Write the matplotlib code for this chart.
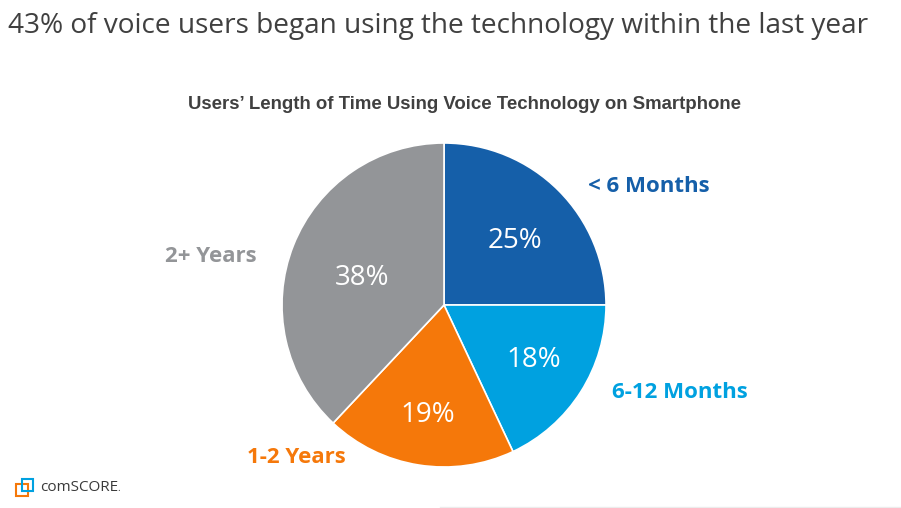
import numpy as np
import matplotlib.pyplot as plt
from matplotlib.patches import Rectangle

categories = ['< 6 Months', '6-12 Months', '1-2 Years', '2+ Years']
shares = [25, 18, 19, 38]
colors = ['#155fa9', '#00a1e0', '#f5780a', '#939598']

# where each label sits (data units of the pie axes, radius = 1)
pct_pos = [(0.44, 0.395), (0.556, -0.342), (-0.10, -0.682), (-0.506, 0.165)]
name_pos = [(1.265, 0.73), (1.457, -0.542), (-0.914, -0.943), (-1.438, 0.298)]

fig = plt.figure(figsize=(9.01, 5.08), dpi=100)
fig.patch.set_facecolor('white')

fig.text(0.009, 0.948, '43% of voice users began using the technology within the last year',
         fontsize=20.15, family='Open Sans', color='#404040', va='center', ha='left')
fig.text(0.516, 0.795, 'Users\u2019 Length of Time Using Voice Technology on Smartphone',
         fontsize=13.4, family='Liberation Sans', weight='bold', color='#404040',
         va='center', ha='center')

ax = fig.add_axes([0.313, 0.0807, 0.3596, 0.6378])
wedges, _ = ax.pie(shares, colors=colors, startangle=90, counterclock=False,
                   radius=1, wedgeprops=dict(linewidth=1.2, edgecolor='white'))
ax.set_xlim(-1, 1)
ax.set_ylim(-1, 1)
ax.set_aspect('equal')
ax.axis('off')

for (x, y), v in zip(pct_pos, shares):
    ax.text(x, y, f'{v}%', color='white', fontsize=20, family='Open Sans',
            ha='center', va='center')

for (x, y), name, c in zip(name_pos, categories, colors):
    ax.text(x, y, name, color=c, fontsize=16, family='Open Sans', weight='bold',
            ha='center', va='center', clip_on=False)

# comScore logo
fig.patches.append(Rectangle((0.018, 0.024), 0.013, 0.024, transform=fig.transFigure,
                             fill=False, edgecolor='#f5780a', linewidth=1.5))
fig.patches.append(Rectangle((0.024, 0.034), 0.013, 0.024, transform=fig.transFigure,
                             fill=False, edgecolor='#00a1e0', linewidth=1.5))
fig.text(0.044, 0.041, 'comSCORE', fontsize=11, family='Open Sans', color='#3a3a3a',
         va='center', ha='left')
fig.text(0.130, 0.034, '.', fontsize=7, family='Open Sans', color='#3a3a3a')

fig.lines.append(plt.Line2D([0.488, 1.0], [0.002, 0.002], transform=fig.transFigure,
                            color='#ececec', linewidth=1))

fig.savefig('out.png', dpi=100)
